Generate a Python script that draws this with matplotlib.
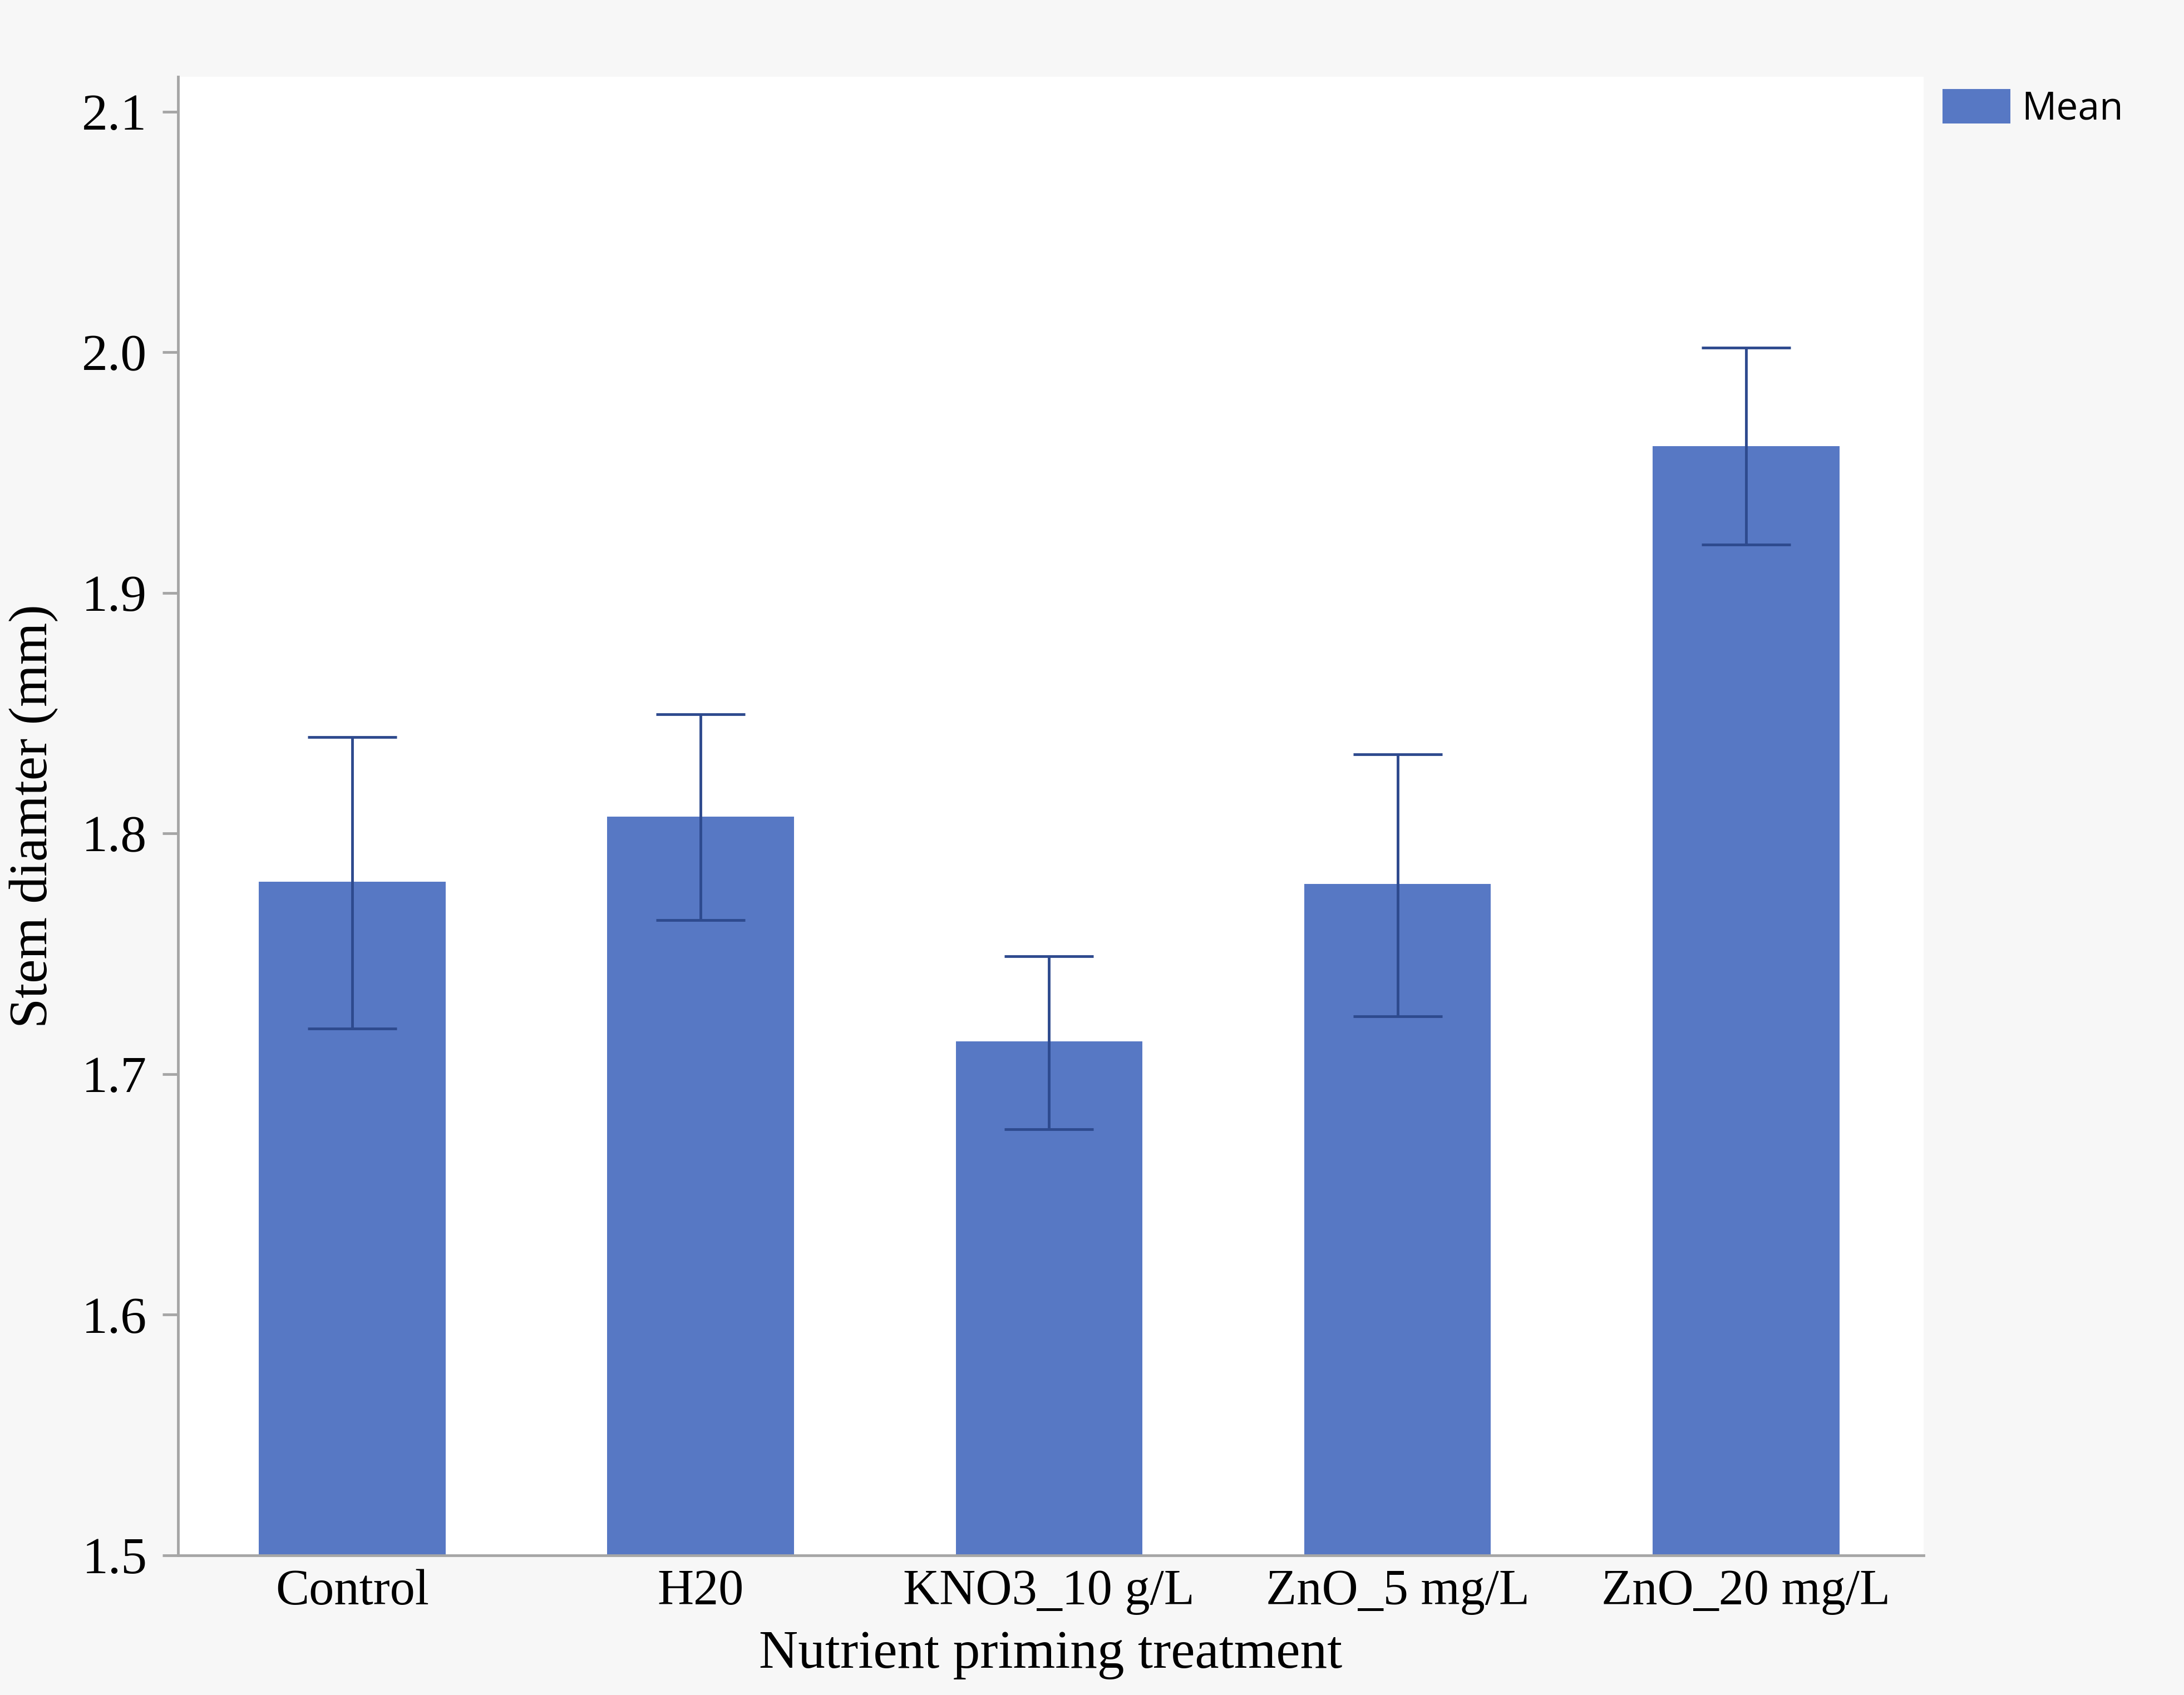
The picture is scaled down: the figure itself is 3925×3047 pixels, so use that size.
import matplotlib
matplotlib.use("Agg")
import matplotlib.pyplot as plt

# Data
treatments = ["Control", "H20", "KNO3_10 g/L", "ZnO_5 mg/L", "ZnO_20 mg/L"]
means = [1.780, 1.807, 1.7135, 1.779, 1.961]
err_low = [0.061, 0.043, 0.0365, 0.055, 0.041]
err_high = [0.060, 0.0425, 0.0355, 0.054, 0.041]

bar_color = "#5778c4"
err_color = "#2e4a8e"
spine_color = "#a6a6a6"

fig = plt.figure(figsize=(15.7, 12.188), dpi=250, facecolor="#f7f7f7")
ax = fig.add_axes([0.0815, 0.0824, 0.8808 - 0.0815, 0.9547 - 0.0824])
ax.set_facecolor("white")

x = range(len(treatments))
ax.bar(x, means, width=0.536, color=bar_color, label="Mean", zorder=2)
ax.errorbar(x, means, yerr=[err_low, err_high], fmt="none", ecolor=err_color,
            elinewidth=1.4, capsize=23, capthick=1.4, zorder=3)

ax.set_xlim(-0.5, 4.51)
ax.set_ylim(1.5, 2.1145)
ax.set_yticks([1.5, 1.6, 1.7, 1.8, 1.9, 2.0, 2.1])
ax.set_yticklabels(["1.5", "1.6", "1.7", "1.8", "1.9", "2.0", "2.1"])
ax.set_xticks(list(x))
ax.set_xticklabels(treatments)

serif = "Liberation Serif"
for lab in ax.get_yticklabels():
    lab.set_fontfamily(serif)
    lab.set_fontsize(27)
for lab in ax.get_xticklabels():
    lab.set_fontfamily(serif)
    lab.set_fontsize(26)

ax.tick_params(axis="y", length=8, width=1.4, color=spine_color, pad=8)
ax.tick_params(axis="x", length=0, pad=7)

for side in ["top", "right"]:
    ax.spines[side].set_visible(False)
for side in ["left", "bottom"]:
    ax.spines[side].set_color(spine_color)
    ax.spines[side].set_linewidth(1.4)

ax.set_xlabel("Nutrient priming treatment", fontfamily=serif, fontsize=28, labelpad=8)
ax.set_ylabel("Stem diamter (mm)", fontfamily=serif, fontsize=28, labelpad=12)

fig.legend(loc="upper left", bbox_to_anchor=(0.8895, 0.9475), frameon=False,
           prop={"family": "Open Sans", "size": 20}, borderpad=0, borderaxespad=0,
           handlelength=1.75, handleheight=1.0, handletextpad=0.3)

fig.savefig("out.png", dpi=250, facecolor=fig.get_facecolor())
